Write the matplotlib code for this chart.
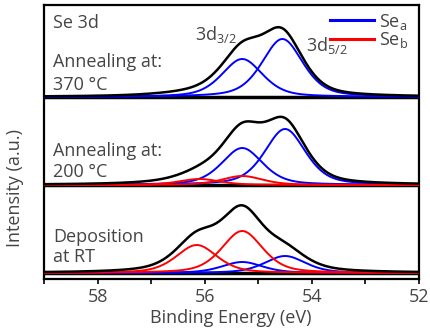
import numpy as np
import matplotlib.pyplot as plt

plt.rcParams['font.family'] = ['Open Sans', 'DejaVu Sans']
plt.rcParams['mathtext.fontset'] = 'custom'
plt.rcParams['mathtext.rm'] = 'Open Sans'
plt.rcParams['mathtext.it'] = 'Open Sans:italic'

# fitted Se 3d components (centre eV, peak height)
# panels from bottom to top
panel_names = ['RT', '200C', '370C']
panel_offsets = [6, 94, 182]
sea_centers = [[54.5, 55.3], [54.5, 55.3], [54.55, 55.3]]
sea_heights = [[17, 11], [56, 37], [58, 38]]
seb_centers = [[55.3, 56.15], [55.3, 56.1], []]
seb_heights = [[42, 28], [9, 6], []]
bg_heights = [8, 6, 6]
bg_center = 55.5
peak_fwhm = 0.9
bg_fwhm = 2.0
eta = 0.45

energy = np.linspace(59, 52, 700)
txt = '#454545'


def pvoigt(x, c, h, w):
    g = np.exp(-4 * np.log(2) * ((x - c) / w) ** 2)
    l = 1 / (1 + 4 * ((x - c) / w) ** 2)
    return h * ((1 - eta) * g + eta * l)


fig = plt.figure(figsize=(4.3, 3.3), dpi=100)
ax = fig.add_axes([44 / 430, 51 / 330, 375 / 430, 274 / 330])

for i in range(3):
    off = panel_offsets[i]
    total = pvoigt(energy, bg_center, bg_heights[i], bg_fwhm)
    ax.axhline(off, color='black', lw=2.5, zorder=2)
    for c, h in zip(sea_centers[i], sea_heights[i]):
        y = pvoigt(energy, c, h, peak_fwhm)
        total = total + y
        ax.plot(energy, off + y, color='#0000ff', lw=1.4, zorder=3)
    for c, h in zip(seb_centers[i], seb_heights[i]):
        y = pvoigt(energy, c, h, peak_fwhm)
        total = total + y
        ax.plot(energy, off + y, color='#ff0000', lw=1.4, zorder=3)
    ax.plot(energy, off + total, color='black', lw=1.8, zorder=4)

ax.plot([], [], color='#0000ff', lw=2.2, label='Se$_{\\mathrm{a}}$')
ax.plot([], [], color='#ff0000', lw=2.2, label='Se$_{\\mathrm{b}}$')
ax.legend(loc='upper right', bbox_to_anchor=(1.0, 1.015), frameon=False,
          fontsize=13, handlelength=2.4, handletextpad=0.3,
          labelspacing=-0.1, labelcolor=txt, borderaxespad=0.2)

ax.set_xlim(59, 52)
ax.set_ylim(0, 274)
ax.set_yticks([])
ax.set_xticks([58, 56, 54, 52])
ax.set_xticks([59, 57, 55, 53], minor=True)
ax.tick_params(axis='x', which='both', direction='out', length=3.5, width=1.2,
               labelsize=13, labelcolor=txt, pad=3)
for s in ax.spines.values():
    s.set_linewidth(1.6)

# panel labels
tx = 58.83
ax.text(tx, 251, 'Se 3d', fontsize=13, color=txt)
ax.text(tx, 212, 'Annealing at:', fontsize=13, color=txt)
ax.text(tx, 188.5, '370 °C', fontsize=13, color=txt)
ax.text(tx, 123, 'Annealing at:', fontsize=13, color=txt)
ax.text(tx, 102, '200 °C', fontsize=13, color=txt)
ax.text(tx, 37.5, 'Deposition', fontsize=13, color=txt)
ax.text(tx, 17.5, 'at RT', fontsize=13, color=txt)
ax.text(56.19, 239, '3d$_{\\mathrm{3/2}}$', fontsize=13, color=txt)
ax.text(54.11, 228, '3d$_{\\mathrm{5/2}}$', fontsize=13, color=txt)

fig.text(231 / 430, 7 / 330, 'Binding Energy (eV)', fontsize=13, color=txt,
         ha='center', va='baseline')
fig.text(15 / 430, 142 / 330, 'Intensity (a.u.)', fontsize=13, color=txt,
         ha='center', va='center', rotation=90)

fig.savefig('out.png', dpi=100)
